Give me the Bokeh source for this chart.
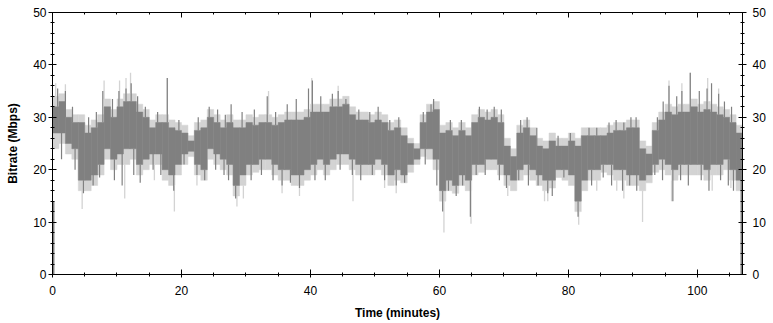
import numpy as np
from bokeh.plotting import figure
from bokeh.models import FixedTicker, LinearAxis, Range1d, CustomLabelingPolicy
from bokeh.embed import file_html
from bokeh.resources import INLINE

# ---- data (1-minute bins) ----
dark_lo = [27, 27, 25, 24, 18, 18, 19, 21, 24, 22, 23, 24, 24, 21, 22, 23, 23, 20, 19, 21,
           23, 23.5, 21, 20, 24, 23, 22, 21, 17, 19, 21, 21, 22, 22, 21, 20, 20, 19, 19, 20,
           21, 22, 21, 22, 23, 23, 22, 21, 21, 21, 22, 21, 19, 20, 19, 21, 22, 24, 24, 22,
           16, 18, 17, 19, 18, 21, 21, 22, 22, 21, 19, 18, 20, 21, 20, 19, 18, 18, 20, 20,
           19, 14, 18, 20, 20, 21, 21, 20, 20, 19, 19, 18, 19, 21, 22, 21, 20, 21, 21, 21,
           21, 20, 21, 21, 22, 20, 18]
dark_hi = [32, 33, 30, 29, 29, 27, 28, 29, 32, 30, 32, 33, 33, 31, 30, 28, 29, 29, 28, 27.5,
           27, 25.5, 27.5, 28, 30, 29, 28, 29, 28, 28, 29, 28.5, 29, 29, 28.5, 29, 29.5, 29.5, 29.5, 30,
           31, 31, 31, 32, 32, 32.5, 30.5, 29.5, 29.5, 29, 29.5, 29, 27.5, 28, 26.5, 25, 24, 29, 31, 31.5,
           27, 27.5, 26.5, 27.5, 26.5, 29, 30, 29.5, 30, 29, 24.5, 22.5, 27, 28, 26.5, 24.5, 24, 25.5, 24.5, 24.5,
           25.5, 24.5, 26.5, 26.5, 26.5, 26.5, 27, 27.5, 27.5, 28, 28, 24, 23, 27.5, 29.5, 31, 30.5, 31, 31, 32,
           31, 31.5, 31, 30.5, 30, 29, 27]
light_lo = [24, 25, 23, 22, 16, 16, 17, 19, 22, 20, 21, 21, 22, 19, 20, 21, 21, 18, 17, 19,
            21, 22.5, 19, 18, 22, 21, 20, 19, 15, 17, 19, 19.5, 20, 20, 19, 18, 18, 17, 17, 18,
            19, 20, 19, 20, 21, 21, 20, 19, 19, 19, 20, 19, 17, 18, 17.5, 19.5, 21, 22.5, 22, 20,
            14, 16, 15.5, 17, 16, 19, 19.5, 20, 20, 19, 17, 16, 18, 19, 18, 17, 16, 16.5, 18.5, 18,
            17, 12, 16, 18, 18, 19.5, 19, 18, 18, 17, 17, 16, 17.5, 19.5, 20, 19, 18, 19, 19, 19,
            19, 18, 19, 19, 20, 18, 16]
light_hi = [34, 34.5, 31.5, 30.5, 30.5, 28.5, 29.5, 30.5, 33.5, 31.5, 33.5, 34.5, 34.5, 32.5, 31.5, 29.5, 30.5, 30.5, 29.5, 29,
            28.5, 26.5, 29, 29.5, 31.5, 30.5, 29.5, 30.5, 29.5, 29.5, 30.5, 30, 30.5, 30.5, 30, 30.5, 31, 31, 31, 31.5,
            32.5, 32.5, 32.5, 33.5, 33.5, 34, 32, 31, 31, 30.5, 31, 30.5, 29, 29.5, 28, 26, 25, 30.5, 32.5, 33,
            28.5, 29, 28, 29, 28, 30.5, 31.5, 31, 31.5, 30.5, 26, 24, 28.5, 29.5, 28, 26, 25.5, 27, 26, 26,
            27, 26, 28, 28, 28, 28, 28.5, 29, 29, 29.5, 29.5, 25.5, 24.5, 29, 31, 32.5, 32, 32.5, 32.5, 33.5,
            32.5, 33, 32.5, 32, 31.5, 30.5, 28.5]

dark_up_t = [0.8, 2.0, 3.1, 5.6, 6.8, 7.8, 9.3, 10.3, 11.4, 12.2, 13.2, 14.4, 16.3, 17.8, 19.6,
             22.6, 24.3, 25.6, 26.8, 27.7, 29.4, 31.3, 33.3, 34.6, 36.4, 37.8, 39.7, 40.3, 41.6,
             43.4, 44.3, 45.5, 47.5, 49.2, 50.5, 52.3, 53.7, 57.5, 58.7, 59.1, 61.7, 63.4, 66.2,
             67.4, 68.5, 69.6, 72.6, 73.6, 75.1, 78.4, 80.3, 83.2, 84.4, 86.3, 87.4, 88.6, 89.7,
             90.5, 93.8, 94.7, 95.6, 96.8, 97.6, 98.9, 100.3, 101.5, 102.2, 103.3, 104.2, 105.3]
dark_up_v = [35.5, 35, 32, 30, 31, 35, 33.5, 35, 35.5, 36.5, 34, 32, 31, 37.5, 29.5,
             30, 32, 31.5, 30.5, 32.5, 31, 31.5, 34, 31, 32.5, 33.5, 35.5, 37, 34,
             34.5, 35, 33.5, 31.5, 31, 32, 29.5, 30, 31, 32.5, 33.5, 29.5, 29.5, 32,
             31.5, 32, 31.5, 29.5, 30, 28, 26.5, 27, 28, 28, 29, 29.5, 29, 30,
             30, 30, 33, 36, 34, 35, 38.5, 35, 35.5, 36.5, 34.5, 33, 32]
dark_dn_t = [1.4, 3.5, 4.8, 6.3, 7.3, 9.6, 10.8, 12.6, 13.6, 15.6, 16.8, 18.8, 20.4, 22.4, 23.6,
             25.3, 26.6, 27.3, 28.4, 30.8, 32.4, 34.2, 35.6, 36.9, 38.3, 40.7, 42.3, 44.6, 46.5,
             47.8, 49.6, 51.5, 53.3, 54.6, 57.8, 59.6, 60.5, 61.4, 62.6, 63.6, 64.8, 65.7, 67.1,
             69.3, 70.4, 72.3, 73.8, 75.3, 76.8, 77.5, 79.3, 81.5, 83.6, 85.4, 86.7, 88.4, 89.5,
             90.6, 91.6, 93.4, 94.6, 96.2, 97.4, 98.6, 100.6, 101.8, 103.6, 104.8, 105.6]
dark_dn_v = [22, 20, 15.5, 17, 18.5, 18, 17, 19, 17.5, 20, 19, 16, 21, 19, 18,
             20, 19, 18, 14.5, 18, 19, 18, 17, 17.5, 16.5, 18, 18, 20, 19,
             18, 19, 18, 17, 17.5, 21, 17, 12, 16, 15, 17, 11, 19, 19,
             18, 16.5, 18, 17, 17, 15.5, 15, 18.5, 11, 17, 18.5, 17, 16, 17,
             16, 18, 19, 18, 14, 18, 17, 18, 16, 18, 17, 16]
light_dn_t = [4.6, 11.2, 15.8, 18.9, 22.4, 28.6, 29.6, 35.6, 38.3, 46.6, 51.5, 53.3, 60.7, 64.9,
              70.6, 76.3, 76.8, 81.6, 84.4, 87.5, 88.6, 91.5, 96.0, 102.3, 105.2]
light_dn_v = [12.5, 14.5, 18, 12, 17, 13, 14.5, 15.5, 15, 14, 16.5, 15.5, 8, 9.7,
              15, 14, 14, 9.5, 16, 16, 14.5, 10, 14, 16, 16.5]
light_up_t = [0.5, 2.0, 8.0, 10.4, 11.4, 12.1, 17.8, 33.5, 40.2, 44.3, 95.6, 97.6, 98.9, 101.6, 103.3]
light_up_v = [36.5, 36.3, 37, 37, 37.5, 38.5, 37.5, 35, 37.5, 36, 37, 36.5, 38.5, 37.5, 35.5]

start_t, start_v = 0.15, 14      # initial ramp from 0
end_t, end_v = 106.85, 20        # final drop to 0

x_major = [0, 20, 40, 60, 80, 100]
x_minor = [5, 10, 15, 25, 30, 35, 45, 50, 55, 65, 70, 75, 85, 90, 95, 105]
y_major = [0, 10, 20, 30, 40, 50]
y_minor = [v for v in range(0, 51, 2) if v % 10]

DARK = "#808080"
LIGHT = "#d3d3d3"
FONT = "Liberation Sans"

t = np.arange(len(dark_lo)) + 0.5


def base(arr, times):
    return [arr[min(int(x), len(arr) - 1)] for x in times]


p = figure(width=773, height=323, output_backend="svg", toolbar_location=None,
           x_range=Range1d(0, 107), y_range=Range1d(0, 50),
           min_border_left=52, min_border_right=31, min_border_top=12, min_border_bottom=49,
           x_axis_label="Time (minutes)", y_axis_label="Bitrate (Mbps)")
p.grid.visible = False
p.outline_line_color = "black"
p.background_fill_color = "white"
p.border_fill_color = "white"

# light series
p.vbar(x=t, width=1, bottom=light_lo, top=light_hi, fill_color=LIGHT, line_color=LIGHT, line_width=0.5)
p.segment(x0=light_dn_t, y0=base(light_lo, light_dn_t), x1=light_dn_t, y1=light_dn_v,
          line_color=LIGHT, line_width=1.3)
p.segment(x0=light_up_t, y0=base(light_hi, light_up_t), x1=light_up_t, y1=light_up_v,
          line_color=LIGHT, line_width=1.3)

# dark series
p.vbar(x=t, width=1, bottom=dark_lo, top=dark_hi, fill_color=DARK, line_color=DARK, line_width=0.5)
p.segment(x0=dark_dn_t, y0=base(dark_lo, dark_dn_t), x1=dark_dn_t, y1=dark_dn_v,
          line_color=DARK, line_width=1.2)
p.segment(x0=dark_up_t, y0=base(dark_hi, dark_up_t), x1=dark_up_t, y1=dark_up_v,
          line_color=DARK, line_width=1.2)
p.segment(x0=[start_t], y0=[0], x1=[start_t], y1=[start_v], line_color=DARK, line_width=2)
p.segment(x0=[end_t], y0=[0], x1=[end_t], y1=[end_v], line_color=DARK, line_width=2)


def style(ax):
    ax.axis_line_color = "black"
    ax.major_tick_line_color = "black"
    ax.minor_tick_line_color = "black"
    ax.major_label_text_font = FONT
    ax.major_label_text_font_size = "12px"
    ax.major_label_text_color = "black"
    ax.axis_label_text_font = FONT
    ax.axis_label_text_font_size = "12px"
    ax.axis_label_text_font_style = "bold"
    ax.axis_label_text_color = "black"


xb = p.xaxis[0]
xb.ticker = FixedTicker(ticks=x_major, minor_ticks=x_minor)
style(xb)
xb.major_tick_in = 5; xb.major_tick_out = 3
xb.minor_tick_in = 2; xb.minor_tick_out = 2
xb.major_label_standoff = 8
xb.axis_label_standoff = 8

yl = p.yaxis[0]
yl.ticker = FixedTicker(ticks=y_major, minor_ticks=y_minor)
style(yl)
yl.major_tick_in = 4; yl.major_tick_out = 4
yl.minor_tick_in = 2; yl.minor_tick_out = 2
yl.major_label_standoff = 2
yl.axis_label_standoff = 10

xtop = LinearAxis(ticker=FixedTicker(ticks=x_major, minor_ticks=x_minor),
                  major_label_policy=CustomLabelingPolicy(code="return new Set()"))
style(xtop)
xtop.major_tick_in = 5; xtop.major_tick_out = 0
xtop.minor_tick_in = 2; xtop.minor_tick_out = 0
xtop.major_label_standoff = 0
p.add_layout(xtop, "above")

yr = LinearAxis(ticker=FixedTicker(ticks=y_major, minor_ticks=y_minor))
style(yr)
yr.major_tick_in = 4; yr.major_tick_out = 4
yr.minor_tick_in = 2; yr.minor_tick_out = 2
yr.major_label_standoff = 6
p.add_layout(yr, "right")

open("out.html", "w").write(file_html(p, INLINE))
